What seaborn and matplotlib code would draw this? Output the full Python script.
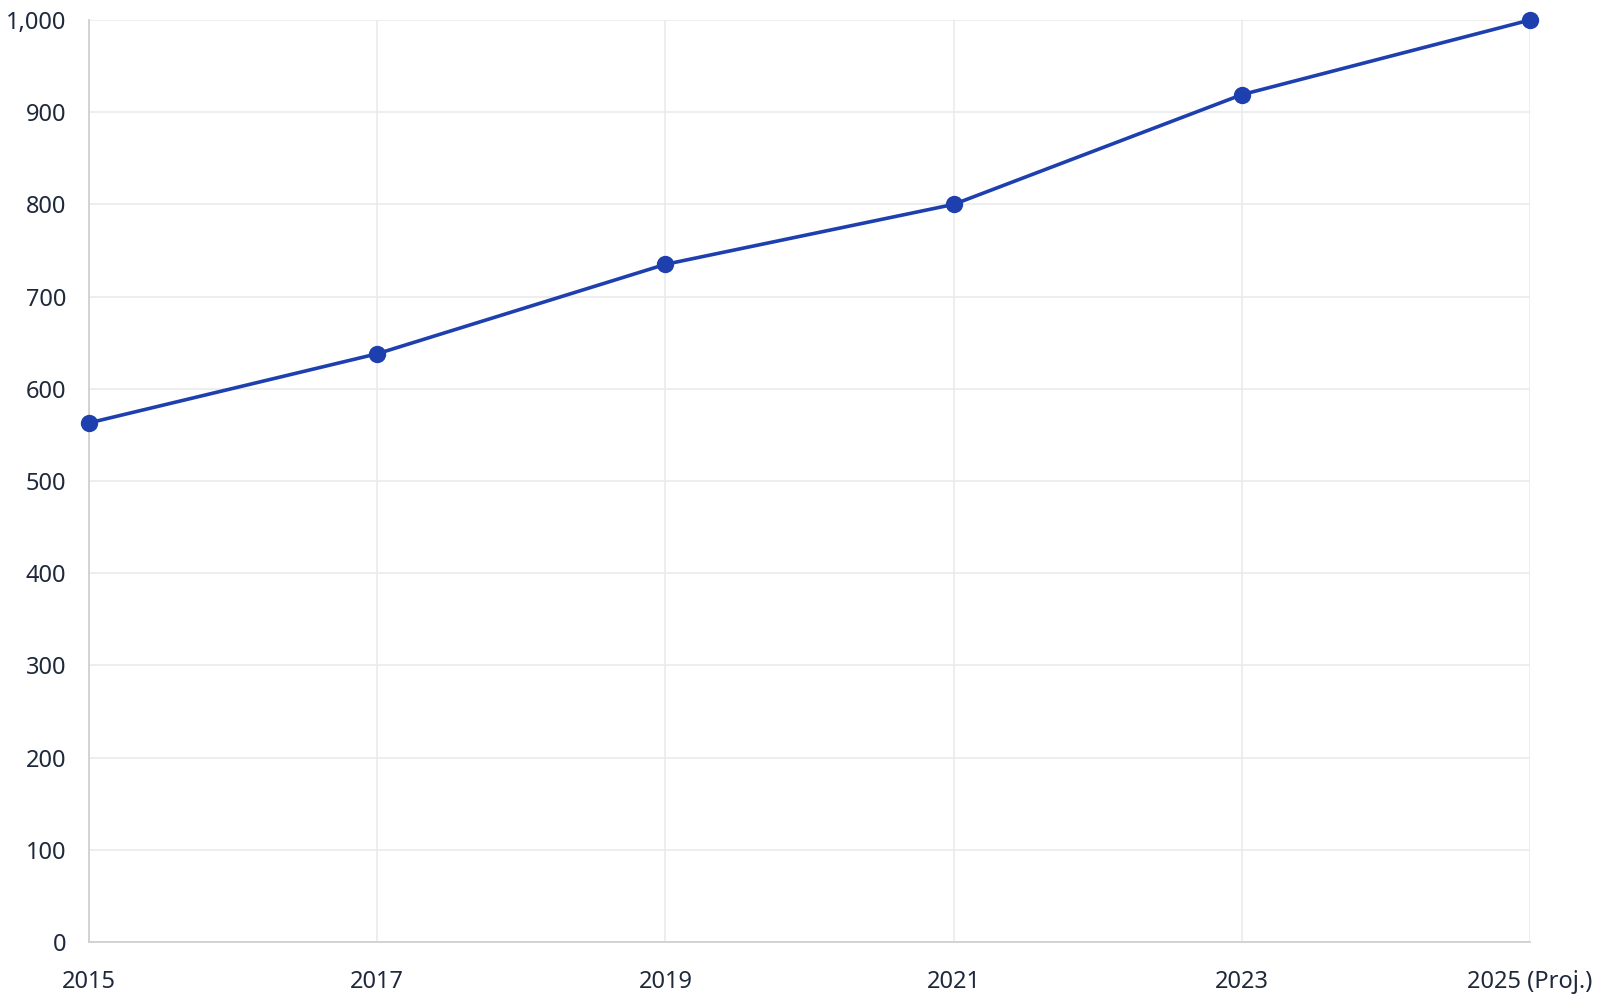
import matplotlib
matplotlib.use("Agg")
import matplotlib.pyplot as plt
import matplotlib.ticker as mticker
import seaborn as sns
import pandas as pd

# data
years = ["2015", "2017", "2019", "2021", "2023", "2025 (Proj.)"]
values = [563, 638, 735, 800, 919, 1000]

line_color = "#1e40af"
grid_color = "#ebebeb"
axis_color = "#d0d0d0"
text_color = "#1e293b"

sns.set_theme(style="white")
plt.rcParams["font.family"] = ["Noto Sans", "DejaVu Sans"]

df = pd.DataFrame({"year": years, "value": values})
df["pos"] = range(len(df))

fig = plt.figure(figsize=(16, 10), dpi=100)
ax = fig.add_axes([89 / 1600, 58 / 1000, (1530 - 89) / 1600, (942 - 20) / 1000])

sns.lineplot(data=df, x="pos", y="value", ax=ax, color=line_color,
             linewidth=2.6, marker="o", markersize=12.5,
             markeredgewidth=0, zorder=3, clip_on=False)

ax.set_xlim(0, len(years) - 1)
ax.set_ylim(0, 1000)
ax.set_xticks(df["pos"])
ax.set_xticklabels(years)
ax.set_yticks(range(0, 1001, 100))
ax.yaxis.set_major_formatter(mticker.FuncFormatter(lambda v, p: f"{int(v):,}"))

ax.grid(True, color=grid_color, linewidth=1.2, zorder=0)
ax.set_axisbelow(True)

for side in ["top", "right"]:
    ax.spines[side].set_visible(False)
for side in ["left", "bottom"]:
    ax.spines[side].set_color(axis_color)
    ax.spines[side].set_linewidth(1.3)

ax.tick_params(axis="both", length=11.5, width=1.2, color=grid_color,
               labelsize=17, labelcolor=text_color)
ax.tick_params(axis="x", pad=9)
ax.tick_params(axis="y", pad=5)
ax.set_xlabel("")
ax.set_ylabel("")

fig.savefig("out.png", dpi=100)
